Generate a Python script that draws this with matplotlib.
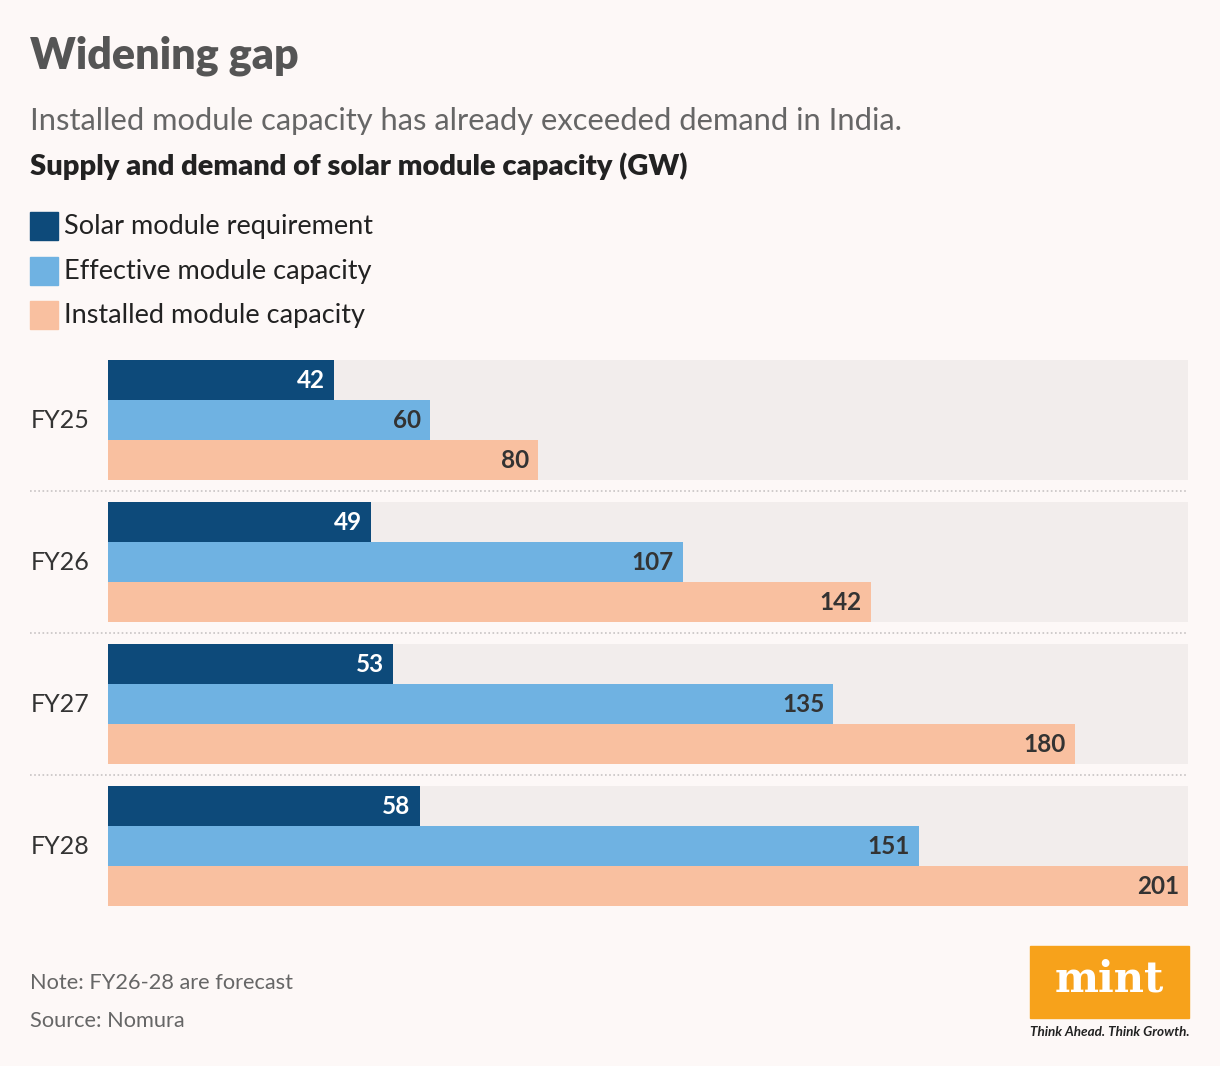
import matplotlib.pyplot as plt
from matplotlib.patches import Rectangle
from matplotlib.transforms import blended_transform_factory

# data
years = ["FY25", "FY26", "FY27", "FY28"]
series = ["Solar module requirement", "Effective module capacity", "Installed module capacity"]
requirement = [42, 49, 53, 58]
effective = [60, 107, 135, 151]
installed = [80, 142, 180, 201]

colors = ["#0d4a7a", "#6fb2e2", "#f9c0a0"]
label_colors = ["white", "#333333", "#333333"]
bg = "#fdf8f7"
band = "#f2edec"

W, H = 1220, 1066
plt.rcParams['font.family'] = ['Lato', 'DejaVu Sans']

fig = plt.figure(figsize=(W / 100, H / 100), dpi=100, facecolor=bg)


def fx(x):
    return x / W


def fy(y):
    return 1 - y / H


# header
fig.text(fx(30), fy(68), "Widening gap", fontsize=31, fontweight='heavy',
         color="#555555", va='baseline')
fig.text(fx(30), fy(130), "Installed module capacity has already exceeded demand in India.",
         fontsize=22.2, color="#666666", va='baseline')
fig.text(fx(30), fy(175), "Supply and demand of solar module capacity (GW)",
         fontsize=21, fontweight='heavy', color="#222222", va='baseline')

# legend
leg_y = [212, 257, 301]
for name, c, y in zip(series, colors, leg_y):
    fig.patches.append(Rectangle((fx(30), fy(y + 28)), 28 / W, 28 / H, color=c,
                                 transform=fig.transFigure, figure=fig))
    fig.text(fx(64), fy(y + 22), name, fontsize=19.5, color="#222222", va='baseline')

# chart
ax = fig.add_axes([fx(108), fy(906), (1188 - 108) / W, (906 - 360) / H])
ax.set_facecolor(bg)
gap = 3.55
values = [requirement, effective, installed]
xmax = max(installed)
trans = blended_transform_factory(fig.transFigure, ax.transData)
for i, yr in enumerate(years):
    base = i * gap
    ax.barh(base + 1, xmax, height=3, color=band, zorder=0)
    for j in range(3):
        v = values[j][i]
        ax.barh(base + j, v, height=1, color=colors[j], zorder=2)
        ax.text(v - 1.7, base + j, str(v), ha='right', va='center',
                fontsize=17.5, fontweight='bold', color=label_colors[j], zorder=3)
    fig.text(fx(31), base + 1, yr, fontsize=18, color="#333333", va='center',
             transform=trans)
    if i < len(years) - 1:
        sep = base + 2.5 + (gap - 3) / 2
        ax.plot([fx(30), fx(1188)], [sep, sep], color="#c8c4c4", linestyle=(0, (1, 1.5)),
                linewidth=1.2, transform=trans, clip_on=False)

ax.set_xlim(0, xmax)
ax.set_ylim(3 * gap + 2.5, -0.5)
ax.axis('off')

# footer
fig.text(fx(30), fy(989), "Note: FY26-28 are forecast", fontsize=15.7, color="#666666", va='baseline')
fig.text(fx(30), fy(1027), "Source: Nomura", fontsize=15.7, color="#666666", va='baseline')

# mint logo
fig.patches.append(Rectangle((fx(1030), fy(1018)), 159 / W, 72 / H, color="#f7a21b",
                             transform=fig.transFigure, figure=fig))
fig.text(fx(1109), fy(992), "mint", fontsize=30, fontweight='bold', color="white",
         family='DejaVu Serif', ha='center', va='baseline')
fig.text(fx(1110), fy(1036), "Think Ahead. Think Growth.", fontsize=9.7, fontweight='bold',
         style='italic', color="#222222", ha='center', va='baseline')

fig.savefig("out.png", dpi=100, facecolor=bg)
